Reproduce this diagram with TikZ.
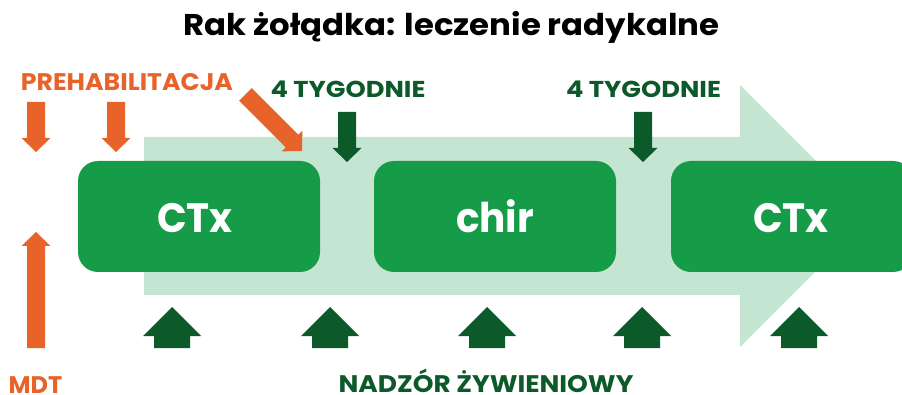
\documentclass[tikz,border=0pt]{standalone}
\usepackage{fontspec}
\setmainfont{Poppins}
\definecolor{orangeC}{HTML}{E7632A}
\definecolor{boxgreen}{HTML}{169C48}
\definecolor{lightgreen}{HTML}{C4E5D1}
\definecolor{darkgreen}{HTML}{0C5A2A}
\newcommand{\hsc}[2]{\scalebox{#1}[1]{#2}}
\begin{document}
\begin{tikzpicture}[x=1pt,y=-1pt,
  arr/.pic={\fill (0,0) -- (-14.5,-14) -- (-9,-14) -- (-9,-#1) -- (9,-#1) -- (9,-14) -- (14.5,-14) -- cycle;},
  bigup/.pic={\fill (0,0) -- (29,29) -- (18,29) -- (18,41) -- (-18,41) -- (-18,29) -- (-29,29) -- cycle;},
  stagebox/.style={fill=boxgreen, rounded corners=20pt, minimum width=242pt, minimum height=111pt, inner sep=0pt},
  boxtext/.style={text=white, font=\fontsize{41}{46}\selectfont\bfseries, inner sep=0pt, anchor=base},
  orangelabel/.style={text=orangeC, font=\fontsize{24}{26}\selectfont\bfseries, inner sep=0pt, anchor=base},
  greenlabel/.style={text=darkgreen, font=\fontsize{23}{25}\selectfont\bfseries, inner sep=0pt, anchor=base}
]
\useasboundingbox (0,0) rectangle (902,395);
\clip (0,0) rectangle (902,395);
% light arrow
\fill[lightgreen] (144,137) -- (740,137) -- (740,85) -- (871,216) -- (740,347) -- (740,295) -- (144,295) -- cycle;
% title
\node[font=\fontsize{30}{34}\selectfont\bfseries, inner sep=0pt, anchor=base] (title) at (451.5,36) {\hsc{1.078}{Rak żołądka: leczenie radykalne}};
% boxes
\node[stagebox] (ctx1) at (199,216.5) {};
\node[stagebox] (chir) at (495,216.5) {};
\node[stagebox] (ctx2) at (792,216.5) {};
\node[boxtext] (ctx1t) at (195,233) {\hsc{0.95}{CTx}};
\node[boxtext] (chirt) at (495,233) {\hsc{0.95}{chir}};
\node[boxtext] (ctx2t) at (791,233) {\hsc{0.95}{CTx}};
% labels
\node[orangelabel] (prehab) at (127,91) {\hsc{1.05}{PREHABILITACJA}};
\node[orangelabel, text depth=0pt] (mdt) at (35.5,393) {MDT};
\node[greenlabel] (tyg1) at (348,98) {\hsc{1.12}{4 TYGODNIE}};
\node[greenlabel] (tyg2) at (643.5,98) {\hsc{1.12}{4 TYGODNIE}};
\node[greenlabel, text depth=0pt, font=\fontsize{24}{26}\selectfont\bfseries] (nadzor) at (486,392) {\hsc{1.1}{NADZÓR ŻYWIENIOWY}};
% orange arrows
\coordinate (p1) at (36,152);
\coordinate (p2) at (116,152);
\coordinate (p3) at (302,151);
\coordinate (m1) at (36,232);
\path[fill=orangeC] (p1) pic {arr=50} (p2) pic {arr=50} (p3) pic[rotate=45] {arr=80} (m1) pic[rotate=180] {arr=116};
% dark green down arrows
\coordinate (t1) at (347,162);
\coordinate (t2) at (643,162);
\path[fill=darkgreen] (t1) pic {arr=50} (t2) pic {arr=50};
% nadzor arrows
\foreach \i/\xx in {1/172,2/330,3/487,4/642,5/799}{
  \coordinate (n\i) at (\xx,307);
  \path[fill=darkgreen] (n\i) pic {bigup};
}
\end{tikzpicture}
\end{document}
